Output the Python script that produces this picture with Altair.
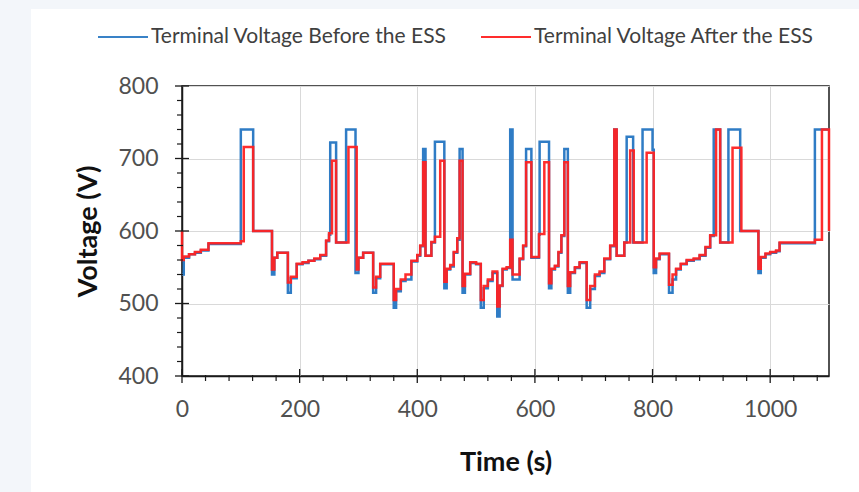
import altair as alt
import pandas as pd

# ---- data (time in s, voltage in V) ----
before_t = [0, 3, 12, 22, 32, 45, 100, 121, 153, 157, 162, 180, 185, 195, 205, 215, 225, 235, 245, 250,
            252, 262, 279, 295, 300, 308, 325, 330, 337, 360, 364, 372, 380, 390, 400, 405, 410, 414, 424,
            430, 446, 450, 456, 462, 468, 472, 477, 481, 490, 500, 508, 513, 520, 528, 536, 540, 545, 552,
            558, 562, 574, 580, 585, 594, 607, 608, 624, 628, 634, 640, 645, 650, 656, 660, 668, 676, 688,
            694, 702, 710, 718, 728, 735, 739, 752, 756, 767, 783, 800, 802, 806, 812, 828, 834, 840, 848,
            858, 870, 880, 890, 898, 904, 915, 929, 949, 980, 984, 992, 1000, 1010, 1016, 1076, 1100]
before_v = [540, 563, 568, 570, 573, 582, 740, 600, 540, 563, 570, 515, 535, 554, 556, 559, 561, 566, 586, 595,
            722, 584, 740, 542, 563, 570, 515, 535, 554, 494, 517, 531, 533, 558, 566, 579, 713, 566, 584,
            723, 521, 547, 551, 570, 588, 713, 515, 540, 556, 554, 494, 521, 531, 542, 482, 524, 547, 549,
            740, 533, 561, 579, 713, 563, 595, 723, 521, 547, 551, 570, 593, 713, 515, 542, 549, 556, 494,
            520, 538, 542, 561, 579, 740, 566, 584, 730, 584, 740, 712, 542, 561, 568, 515, 533, 547, 554,
            559, 561, 566, 577, 593, 740, 584, 740, 600, 542, 563, 568, 570, 572, 583, 740, 740]

after_t = [0, 0, 3, 12, 22, 32, 45, 100, 105, 121, 153, 157, 162, 180, 185, 195, 205, 215, 225, 235, 245,
           250, 255, 262, 283, 297, 300, 308, 325, 330, 337, 360, 364, 372, 380, 390, 400, 405, 410, 414,
           424, 430, 439, 446, 450, 456, 462, 468, 472, 477, 481, 490, 500, 508, 513, 520, 528, 536, 540,
           545, 552, 558, 562, 574, 580, 585, 594, 607, 616, 624, 628, 634, 640, 645, 650, 656, 660, 668,
           676, 688, 694, 702, 710, 718, 728, 735, 739, 752, 762, 768, 790, 802, 806, 812, 828, 834, 840,
           848, 858, 870, 880, 890, 898, 908, 915, 936, 951, 980, 984, 992, 1000, 1010, 1016, 1076, 1088,
           1100]
after_v = [600, 560, 565, 568, 571, 574, 583, 586, 716, 600, 547, 563, 570, 529, 537, 555, 557, 559, 562, 567, 587,
           597, 697, 584, 716, 547, 563, 570, 522, 537, 555, 505, 520, 533, 540, 559, 567, 580, 695, 566,
           585, 592, 697, 530, 548, 553, 571, 590, 697, 524, 541, 557, 555, 505, 524, 533, 544, 496, 525,
           548, 550, 588, 540, 562, 580, 695, 564, 596, 695, 528, 548, 552, 571, 594, 695, 524, 543, 550,
           557, 505, 524, 540, 544, 562, 580, 740, 566, 584, 711, 584, 708, 550, 562, 569, 526, 540, 548,
           555, 560, 562, 567, 578, 594, 740, 584, 715, 600, 548, 564, 569, 571, 573, 584, 588, 740,
           600]

series_names = ["Terminal Voltage Before the ESS", "Terminal Voltage After the ESS"]
series_colors = ["#2F7CC5", "#FF2222"]

x_major = [0, 200, 400, 600, 800, 1000]
x_minor = [40, 80, 120, 160, 240, 280, 320, 360, 440, 480, 520, 560, 640, 680, 720, 760,
           840, 880, 920, 960, 1040, 1080]
y_major = [400, 500, 600, 700, 800]
y_minor = [420, 440, 460, 480, 520, 540, 560, 580, 620, 640, 660, 680, 720, 740, 760, 780]

# ---- tables ----
before_df = pd.DataFrame({"t": before_t, "v": before_v, "series": series_names[0], "o": range(len(before_t))})
after_df = pd.DataFrame({"t": after_t, "v": after_v, "series": series_names[1], "o": range(len(after_t))})
xmaj_df = pd.DataFrame({"t": x_major})
xmin_df = pd.DataFrame({"t": x_minor})
ymaj_df = pd.DataFrame({"v": y_major})
ymin_df = pd.DataFrame({"v": y_minor})

W, H = 647, 290
FONT = "Lato"

xs = alt.Scale(domain=[0, 1100], nice=False, zero=False)
ys = alt.Scale(domain=[400, 800], nice=False, zero=False)

xaxis = alt.Axis(values=x_major, format="d", title="Time (s)", grid=True, gridColor="#D9D9D9", gridWidth=1,
                 ticks=False, domainColor="#1a1a1a", domainWidth=1.5, labelFont=FONT, labelFontSize=23,
                 labelColor="#505050", labelPadding=22, labelFlush=False,
                 titleFont=FONT, titleFontSize=27, titleFontWeight="bold", titleColor="#111111",
                 titleX=W / 2, titleY=86, titleBaseline="middle")
yaxis = alt.Axis(values=y_major, format="d", title="Voltage (V)", grid=True, gridColor="#D9D9D9", gridWidth=1,
                 ticks=False, domainColor="#1a1a1a", domainWidth=1.5, labelFont=FONT, labelFontSize=23,
                 labelColor="#505050", labelPadding=24, labelFlush=False,
                 titleFont=FONT, titleFontSize=27, titleFontWeight="bold", titleColor="#111111",
                 titleX=-94, titleY=H / 2, titleBaseline="middle", titleAngle=-90)

xenc = alt.X("t:Q", scale=xs, axis=xaxis)
yenc = alt.Y("v:Q", scale=ys, axis=yaxis)

color = alt.Color("series:N", scale=alt.Scale(domain=series_names, range=series_colors),
                  legend=alt.Legend(orient="none", legendX=-85, legendY=-75, direction="horizontal",
                                    title=None, symbolType="stroke", symbolSize=2500,
                                    symbolStrokeWidth=2, labelFont=FONT, labelFontSize=21,
                                    labelColor="#404040", labelOffset=2, columnPadding=30,
                                    labelLimit=0))

line_before = alt.Chart(before_df).mark_line(interpolate="step-after", strokeWidth=2.5).encode(
    x=xenc, y=yenc, color=color, order="o:Q")
line_after = alt.Chart(after_df).mark_line(interpolate="step-after", strokeWidth=2.5, opacity=0.95).encode(
    x=xenc, y=yenc, color=color, order="o:Q")

xmaj_ticks = alt.Chart(xmaj_df).mark_rule(color="#1a1a1a", strokeWidth=1.3).encode(
    x=xenc, y=alt.value(H - 7), y2=alt.value(H + 7))
xmin_ticks = alt.Chart(xmin_df).mark_rule(color="#1a1a1a", strokeWidth=1.2).encode(
    x=xenc, y=alt.value(H - 1), y2=alt.value(H + 5))
ymaj_ticks = alt.Chart(ymaj_df).mark_rule(color="#1a1a1a", strokeWidth=1.3).encode(
    y=yenc, x=alt.value(-7), x2=alt.value(7))
ymin_ticks = alt.Chart(ymin_df).mark_rule(color="#1a1a1a", strokeWidth=1.2).encode(
    y=yenc, x=alt.value(-5), x2=alt.value(1))

strip_df = pd.DataFrame({"k": [0]})
left_strip = alt.Chart(strip_df).mark_rect(color="#F3F6FA").encode(
    x=alt.value(-182), x2=alt.value(-151), y=alt.value(-86), y2=alt.value(406))
top_strip = alt.Chart(strip_df).mark_rect(color="#F3F6FA").encode(
    x=alt.value(-182), x2=alt.value(677), y=alt.value(-86), y2=alt.value(-77))

chart = alt.layer(
    left_strip, top_strip, line_before, line_after, xmaj_ticks, xmin_ticks, ymaj_ticks, ymin_ticks
).properties(
    width=W, height=H,
    autosize=alt.AutoSizeParams(type="none"),
    padding={"left": 182, "top": 86, "right": 30, "bottom": 116},
    background="white",
).configure_view(stroke="#1a1a1a", strokeWidth=1.5)

chart.save("out.html", embed_options={"renderer": "svg", "actions": False})
